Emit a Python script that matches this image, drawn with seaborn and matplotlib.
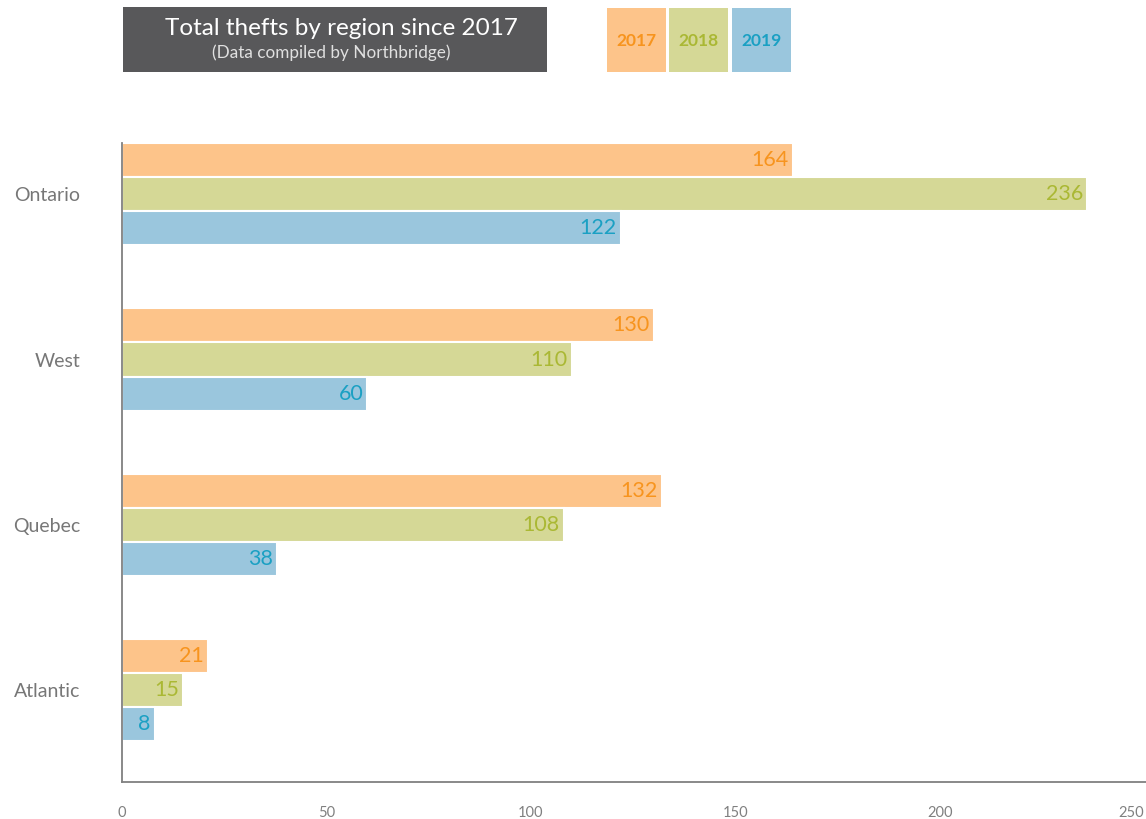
import matplotlib
matplotlib.use("Agg")
import matplotlib.pyplot as plt
from matplotlib.patches import Rectangle
import seaborn as sns
import pandas as pd

regions = ["Ontario", "West", "Quebec", "Atlantic"]
years = ["2017", "2018", "2019"]
values_2017 = [164, 130, 132, 21]
values_2018 = [236, 110, 108, 15]
values_2019 = [122, 60, 38, 8]
x_ticks = [0, 50, 100, 150, 200, 250]

bar_colors = ["#FDC48A", "#D5D896", "#9AC6DD"]
text_colors = ["#F7941E", "#AAB834", "#1BA0C3"]

rows = []
for yr, vals in zip(years, [values_2017, values_2018, values_2019]):
    for r, v in zip(regions, vals):
        rows.append({"region": r, "year": yr, "value": v})
df = pd.DataFrame(rows)

sns.set_style("white")
plt.rcParams["font.family"] = ["Lato", "DejaVu Sans"]

fig = plt.figure(figsize=(11.46, 8.19), dpi=100)
ax = fig.add_axes([0.1065, 0.0452, 0.8935, 0.7802])

sns.barplot(data=df, x="value", y="region", hue="year", order=regions,
            hue_order=years, palette=bar_colors, orient="h", width=0.62,
            saturation=1, edgecolor="white", linewidth=1.5, legend=False, ax=ax)

for cont, tc in zip(ax.containers, text_colors):
    for bar in cont:
        w = bar.get_width()
        ax.annotate(f"{int(round(w))}", xy=(w, bar.get_y() + bar.get_height() / 2),
                    xytext=(-3, 0), textcoords="offset points", ha="right",
                    va="center", color=tc, fontsize=15.5)

ax.set_xlim(0, 250.4)
ax.set_ylim(3.556, -0.31)
ax.set_xticks(x_ticks)
ax.set_xticklabels([str(t) for t in x_ticks])
ax.get_xticklabels()[-1].set_ha("right")
ax.set_xlabel("")
ax.set_ylabel("")
ax.tick_params(axis="x", length=0, pad=17, labelsize=10.5, labelcolor="#808080")
ax.tick_params(axis="y", length=0, pad=30, labelsize=14, labelcolor="#777777")
for s in ["top", "right"]:
    ax.spines[s].set_visible(False)
for s in ["left", "bottom"]:
    ax.spines[s].set_color("#808080")
    ax.spines[s].set_linewidth(1.3)

# Title box
fig.patches.append(Rectangle((0.1073, 0.9121), 0.37, 0.0794, transform=fig.transFigure,
                             facecolor="#58585A", edgecolor="none"))
fig.text(0.2976, 0.9655, "Total thefts by region since 2017", color="white",
         fontsize=17.5, ha="center", va="center")
fig.text(0.289, 0.9362, "(Data compiled by Northbridge)", color="#E0E0E0",
         fontsize=12.3, ha="center", va="center")

# Legend boxes
for x0, yr, bc, tc in zip([0.5297, 0.5838, 0.6387], years, bar_colors, text_colors):
    fig.patches.append(Rectangle((x0, 0.9121), 0.0515, 0.0781, transform=fig.transFigure,
                                 facecolor=bc, edgecolor="none"))
    fig.text(x0 + 0.0515 / 2, 0.9505, yr, color=tc, fontsize=12.5, fontweight="bold",
             ha="center", va="center")

fig.savefig("out.png", dpi=100)
